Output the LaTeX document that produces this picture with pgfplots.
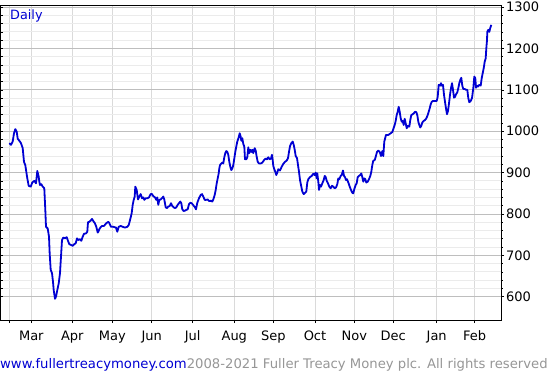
\documentclass[border=0pt]{standalone}
\usepackage{pgfplots}
\pgfplotsset{compat=1.18}
\usepackage{fontspec}
\setmainfont{DejaVu Sans}
\definecolor{lineblue}{RGB}{0,0,210}
\definecolor{footgray}{RGB}{150,150,150}
\definecolor{majgrid}{RGB}{190,190,190}
\definecolor{mingrid}{RGB}{235,235,235}
\definecolor{vgrid}{RGB}{218,218,218}
\begin{document}
\begin{tikzpicture}
\pgfplotsset{
 common/.style={
  at={(0,0)}, anchor=south west, scale only axis,
  width=500.5pt, height=315pt,
  xmin=0.5, xmax=501, ymin=543.7, ymax=1305,
 }
}
\useasboundingbox (-0.5pt,-55pt) rectangle (548.5pt,320pt);
\begin{axis}[common,
  axis line style={black, line width=0.8pt},
  xtick={9.5,31.3,72.3,112.3,151.7,192.7,234.3,273.3,315,354.3,393.3,436.7,474.7},
  xticklabels={,Mar,Apr,May,Jun,Jul,Aug,Sep,Oct,Nov,Dec,Jan,Feb},
  xtick pos=bottom, ytick pos=right,
  tick align=outside,
  ytick={600,700,...,1300},
  minor y tick num=4,
  major tick length=3pt, minor tick length=1.5pt,
  xmajorgrids, ymajorgrids, yminorgrids,
  major x grid style={vgrid, line width=0.8pt},
  major y grid style={majgrid, line width=0.8pt},
  minor y grid style={mingrid, line width=0.8pt},
  tick style={black, line width=0.6pt},
  ticklabel style={font=\fontsize{13}{15}\selectfont},
  /pgf/number format/assume math mode=true,
  /pgf/number format/1000 sep={},
  yticklabel style={anchor=west, xshift=-1.5pt},
  xticklabel style={yshift=-4.5pt},
]
\addplot[lineblue, line width=1.8pt, line join=round] coordinates {
(9.3,971)(11,967)(12.7,975)(14,995)(15.3,1005)(16.7,999)(17.7,982)(19.3,977)(21,971)(22.7,959)(24,926)(25.3,918)(26.3,902)(27.3,886)(28.7,868)(30.7,866)(32.3,876)(34.3,880)(36,874)(37.3,904)(38.7,890)(39.3,878)(40,870)(41.3,872)(42.7,866)(44.3,862)(45.3,810)(46,769)(47.7,765)(49,745)(49.7,703)(50.7,665)(52,657)(53,636)(53.7,616)(55,595)(56,600)(57.3,616)(58.7,632)(60,657)(61,697)(62,737)(63.3,743)(65,741)(66.7,744)(68,735)(69.3,727)(71,725)(72.7,723)(74.3,727)(75.7,729)(77,741)(78.3,737)(80,739)(81.3,735)(82.7,745)(84,752)(86,753)(87.3,757)(88,780)(89.3,781)(90.7,784)(92,788)(93.3,783)(95,777)(96.3,769)(97.7,755)
(98.3,757)(99.3,763)(100.7,768)(102,771)(104,771)(106,777)(108.3,781)(109.3,778)(111,769)(113.3,769)(116,767)(117.3,757)(118.7,769)(120.7,771)(122.7,769)(125,767)(127.3,769)(128.7,773)(130,785)
(131.7,802)(132.7,822)(133.7,834)(134.7,842)(135.3,866)(136.7,858)(138,835)(139.3,842)(140.7,848)(142,838)(143.3,840)(144.3,834)(145.7,838)(147.3,838)(149,840)(150.7,848)(152,848)(153.3,843)(155,840)(156.3,834)(157.3,840)(158.3,822)(159.3,834)(160.7,835)(162,838)(163.3,842)(164.3,835)(165.7,816)(167,814)(168.3,818)(169.7,819)(171,826)(172.3,819)(173.7,816)(175,814)(176.3,816)(177.7,822)(179,826)(180.3,830)(181.3,826)(182.3,811)(183.7,807)(185,808)(186.3,810)(187.7,811)(189,824)(190.3,827)(191.7,826)(193,822)
(195,816)(196,811)(197.3,827)(199,838)(200.7,846)(202,848)(203.3,842)(204.7,834)(206,834)(207.7,835)(209.3,831)(211,832)(212.3,830)(213.3,835)(214.7,846)(215.7,858)(216.7,874)(217.7,886)(218.7,898)(219.3,910)(220,918)(221.3,922)(222.3,924)(223.3,922)(224.3,937)(225.3,947)(226.3,952)(227.3,950)(228.3,943)(229.3,926)(230.3,914)(231.3,906)(232.3,910)(233.3,918)(234.3,934)(235.3,950)(236.3,963)(237.3,975)(238.7,985)(239.7,995)(240.7,987)(241.3,977)(242.3,983)(243.3,969)(244.3,963)(245,932)(246.3,932)(247.3,937)(248.3,961)(249.3,947)(250.3,955)(251.3,950)(252.3,955)(253.3,947)(254.7,959)(255.7,953)(256.7,938)(257.7,926)(259,922)(260.7,922)(262.3,924)(264,930)(265.7,934)(267,932)(268.3,937)(269.7,932)(271,934)(272,943)(272.7,930)(273.3,916)(274.3,908)(275.3,902)(276.3,894)(277.3,900)(278.3,908)(280,905)(281.7,914)(283.3,921)(285,926)(286.7,929)(288,935)(289,950)(290,964)
(291.3,971)(292.7,975)(293.7,967)(294.7,955)(295.7,940)(297,935)(298,918)(299,902)(300,882)(301,870)(302.3,854)(303.7,848)(305,851)(306.3,854)(307.3,876)(308.3,884)(310,889)(311.7,892)(313.3,897)(314.7,894)(315.7,900)(316.7,886)(317.3,898)(318.3,878)(319,858)(320,870)(321,866)(322.3,874)(323.7,882)(324.7,892)(325.7,889)(326.7,880)(328,874)(329.3,866)(330.7,862)(332,868)(333.3,866)(334.7,862)(336,864)(337.3,872)(338.3,886)(339.3,884)(340.7,892)(341.7,894)(343,905)(344,892)(345,889)(346,882)(347,884)(348.3,876)(349.7,866)(351,858)(352.3,851)(353.3,850)(354.3,860)(355.7,870)(356.7,874)(357.7,889)(359,892)(360.3,894)(361.3,898)(362.3,889)(363.3,878)(364.3,886)(365.3,884)(366.3,876)(367.7,878)(369,884)(370.3,892)(371.3,902)(372.3,918)(373.3,929)(374.7,930)(375.7,938)(377,950)(378.3,953)(379.7,950)(381,940)(382.3,952)(383.3,940)(384.3,975)(386,991)(388.3,991)(390.7,995)
(392.3,998)(393.3,1005)(394.7,1015)(395.7,1025)(396.7,1039)(397.7,1047)(398.7,1059)(399.7,1047)(400.7,1031)(401.7,1023)(402.7,1025)(403.7,1015)(404.7,1030)(405.7,1019)(406.7,1007)(408,1013)(409.3,1011)(410.3,1027)(411.3,1039)(412.7,1041)(413.7,1043)(415,1047)(416.3,1046)(417.3,1039)(418.3,1023)(419.3,1015)(420.3,1009)(421.3,1013)(422.3,1021)(423.7,1025)(425,1027)(426.3,1031)(427.7,1039)(428.7,1047)(429.7,1055)(430.7,1065)(431.7,1071)(433,1073)(434.7,1073)(436.7,1073)(437.7,1083)(438.7,1112)(440,1110)(441,1116)(442,1110)(443,1112)(444,1088)(445,1071)(446,1055)(447,1041)(448,1049)(449,1067)(450,1088)(451,1104)(452,1116)(453,1100)(454,1081)(455,1083)(456,1089)(457.3,1094)(458.3,1104)(459.3,1116)(460.3,1124)(461.3,1129)(462.3,1110)(463.3,1102)(464.7,1102)(466,1100)(467.3,1100)(468.3,1080)(469.3,1070)(470.7,1073)(472,1080)(473.3,1104)(474.3,1132)(475.3,1128)(476,1105)(477,1110)(478,1108)(479.3,1112)(480.7,1110)(481.7,1128)(482.7,1140)(483.7,1152)(484.7,1168)(485.7,1176)(486.3,1200)(487,1220)(487.3,1240)(488.3,1245)(489.3,1240)(490.3,1250)(491.3,1257)
};
\end{axis}
\begin{axis}[common,
  axis line style={draw=none},
  xtick=\empty, ytick pos=left, tick align=inside,
  ytick={600,700,...,1300}, yticklabels={},
  minor y tick num=4,
  major tick length=3pt, minor tick length=3pt,
  tick style={black, line width=0.6pt},
]
\end{axis}
\node[anchor=north west, inner sep=0pt, text=lineblue, font=\fontsize{12.8}{14}\selectfont] at (9.5pt,310.5pt) {Daily};
\node[anchor=west, inner sep=0pt, font=\fontsize{13.2}{15}\selectfont] at (-0.5pt,-44.5pt) {\textcolor{lineblue}{www.fullertreacymoney.com}\textcolor{footgray}{2008-2021 Fuller Treacy Money plc. All rights reserved}};
\end{tikzpicture}
\end{document}
